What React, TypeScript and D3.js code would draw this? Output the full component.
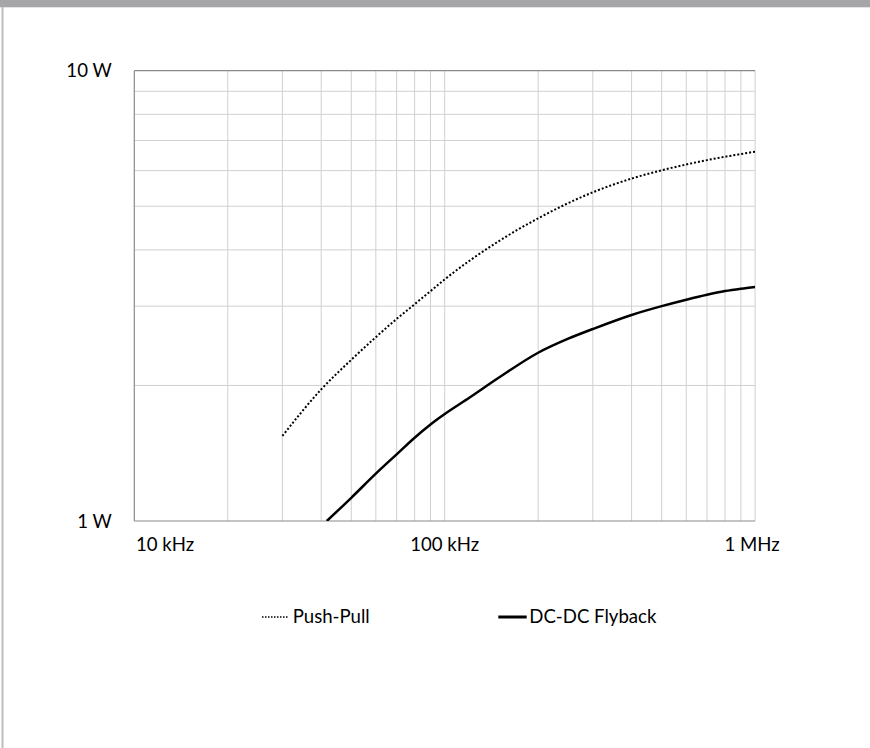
import React from "react";
import * as d3 from "d3";

const freqDomain = [1e4, 1e6];
const powerDomain = [1, 10];
const xTickValues = [1e4, 1e5, 1e6];
const xTickLabels = ["10 kHz", "100 kHz", "1 MHz"];
const yTickValues = [1, 10];
const yTickLabels = ["1 W", "10 W"];

const pushPullFreq = [30e3, 40e3, 50e3, 60e3, 70e3, 80e3, 90e3, 100e3, 150e3, 200e3, 300e3, 400e3, 500e3, 600e3, 700e3, 800e3, 900e3, 1e6];
const pushPullPower = [1.545, 1.96, 2.28, 2.56, 2.81, 3.03, 3.24, 3.44, 4.19, 4.7, 5.37, 5.76, 6.01, 6.19, 6.33, 6.44, 6.53, 6.61];

const flybackFreq = [41.7e3, 50e3, 60e3, 70e3, 80e3, 90e3, 94e3, 100e3, 120e3, 150e3, 200e3, 250e3, 300e3, 400e3, 500e3, 600e3, 700e3, 800e3, 900e3, 1e6];
const flybackPower = [1.0, 1.126, 1.274, 1.406, 1.531, 1.638, 1.676, 1.728, 1.878, 2.085, 2.364, 2.54, 2.669, 2.868, 3.0, 3.1, 3.18, 3.24, 3.28, 3.31];

const seriesNames = ["Push-Pull", "DC-DC Flyback"];

const W = 870;
const H = 748;
const plot = { left: 134.3, right: 755.1, top: 70.7, bottom: 521 };
const FONT = "Lato, 'Open Sans', sans-serif";
const FS = 18.6;

export default function App() {
  const x = d3.scaleLog().domain(freqDomain).range([plot.left, plot.right]);
  const y = d3.scaleLog().domain(powerDomain).range([plot.bottom, plot.top]);

  const minorX: number[] = [];
  for (let dec = 1e4; dec < 1e6; dec *= 10) {
    for (let m = 2; m <= 9; m++) minorX.push(dec * m);
  }
  minorX.push(1e5, 1e6);
  const minorY: number[] = [];
  for (let m = 2; m <= 9; m++) minorY.push(m);

  const line = d3
    .line<[number, number]>()
    .x((d) => x(d[0]))
    .y((d) => y(d[1]))
    .curve(d3.curveMonotoneX);

  const ppData = pushPullFreq.map((f, i) => [f, pushPullPower[i]] as [number, number]);
  const fbData = flybackFreq.map((f, i) => [f, flybackPower[i]] as [number, number]);

  const gridColor = "#D0D0D0";
  const axisColor = "#898989";

  return (
    <svg
      width={W}
      height={H}
      style={{ position: "fixed", left: 0, top: 0, background: "#fff" }}
    >
      <rect x={0} y={0} width={W} height={H} fill="#fff" />
      <rect x={0} y={0} width={W} height={7.3} fill="#A6A6A9" />
      <rect x={1.5} y={7} width={2} height={H - 7} fill="#BEBEBE" />

      {/* grid */}
      {minorY.map((v) => (
        <line key={"gy" + v} x1={plot.left} x2={plot.right} y1={y(v)} y2={y(v)} stroke={gridColor} strokeWidth={1} />
      ))}
      {minorX.map((v, i) => (
        <line key={"gx" + i} x1={x(v)} x2={x(v)} y1={plot.top} y2={plot.bottom} stroke={gridColor} strokeWidth={1} />
      ))}

      {/* frame */}
      <line x1={plot.left} x2={plot.right} y1={y(10)} y2={y(10)} stroke={axisColor} strokeWidth={1.2} />
      <line x1={plot.left} x2={plot.left} y1={plot.top} y2={plot.bottom} stroke={axisColor} strokeWidth={1.2} />
      <line x1={plot.left} x2={plot.right} y1={y(1)} y2={y(1)} stroke={axisColor} strokeWidth={1.2} />

      {/* series */}
      <defs>
        <clipPath id="plotClip">
          <rect x={plot.left} y={plot.top} width={plot.right - plot.left} height={plot.bottom - plot.top} />
        </clipPath>
      </defs>
      <g clipPath="url(#plotClip)">
        <path d={line(ppData) || ""} fill="none" stroke="#000" strokeWidth={2} strokeDasharray="2 2" />
        <path d={line(fbData) || ""} fill="none" stroke="#000" strokeWidth={2.5} />
      </g>

      {/* y tick labels */}
      {yTickValues.map((v, i) => (
        <text key={"yt" + v} x={111.7} y={y(v) + 6.7} textAnchor="end" fontFamily={FONT} fontSize={FS} fill="#000">
          {yTickLabels[i]}
        </text>
      ))}
      {/* x tick labels */}
      {xTickValues.map((v, i) => (
        <text
          key={"xt" + v}
          x={i === 0 ? x(v) + 1.7 : x(v) - (i === 2 ? 3 : 0)}
          y={550.7}
          textAnchor={i === 0 ? "start" : "middle"}
          fontFamily={FONT}
          fontSize={FS}
          fill="#000"
        >
          {xTickLabels[i]}
        </text>
      ))}

      {/* legend */}
      <line x1={262} x2={289} y1={617} y2={617} stroke="#000" strokeWidth={1.5} strokeDasharray="1.5 1.5" />
      <text x={292.7} y={623.3} fontFamily={FONT} fontSize={FS} fill="#000">
        {seriesNames[0]}
      </text>
      <line x1={498.3} x2={526.7} y1={617} y2={617} stroke="#000" strokeWidth={3} />
      <text x={529.3} y={623.3} fontFamily={FONT} fontSize={FS} fill="#000">
        {seriesNames[1]}
      </text>
    </svg>
  );
}
